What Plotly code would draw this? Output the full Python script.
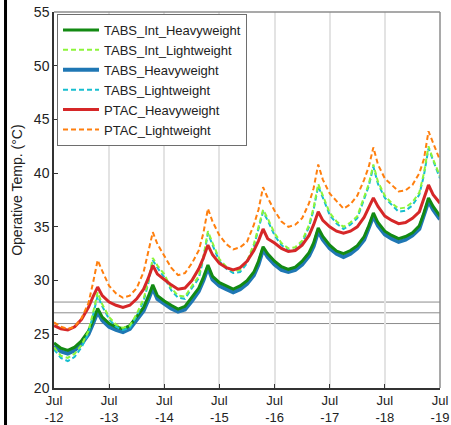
import pandas as pd
import plotly.graph_objects as go

# ---- data ----
day_offsets = [0, 1, 2, 3, 4, 5, 6]
hours_of_day = [0, 3, 6, 9, 12, 15, 17, 19, 21]
end_day = 7
base_date = "2023-07-12"

tabs_int_heavy = [24.2, 23.7, 23.5, 23.8, 24.4, 25.3, 26.3, 27.4, 26.6,
                  26.0, 25.7, 25.5, 25.8, 26.6, 27.5, 28.5, 29.6, 28.6,
                  28.1, 27.7, 27.35, 27.6, 28.4, 29.3, 30.3, 31.45, 30.4,
                  29.8, 29.5, 29.2, 29.5, 30.0, 30.8, 31.8, 33.15, 32.5,
                  31.8, 31.3, 31.05, 31.25, 31.8, 32.6, 33.5, 34.9, 34.1,
                  33.3, 32.75, 32.5, 32.8, 33.25, 34.1, 35.1, 36.3, 35.4,
                  34.6, 34.2, 33.9, 34.1, 34.45, 35.1, 36.3, 37.7, 36.9,
                  36.0]
tabs_int_light = [23.8, 23.0, 22.8, 23.2, 24.0, 25.3, 27.0, 28.9, 27.8,
                  26.6, 25.9, 25.6, 25.8, 26.9, 28.3, 29.9, 32.1, 31.4,
                  30.6, 29.3, 28.6, 28.5, 29.5, 30.4, 32.2, 34.6, 33.5,
                  32.0, 31.3, 30.9, 31.0, 31.8, 33.4, 35.0, 36.6, 35.8,
                  34.4, 33.5, 33.0, 33.1, 33.7, 35.2, 36.8, 39.0, 37.9,
                  36.3, 35.5, 35.0, 35.4, 36.0, 37.8, 39.0, 40.8, 39.2,
                  37.9, 37.2, 36.7, 36.8, 37.3, 38.2, 40.0, 42.5, 41.3,
                  39.7]
tabs_heavy = [23.9, 23.4, 23.2, 23.5, 24.1, 25.0, 26.0, 27.1, 26.3,
              25.7, 25.4, 25.2, 25.5, 26.3, 27.2, 28.2, 29.3, 28.3,
              27.8, 27.4, 27.1, 27.3, 28.1, 29.0, 30.0, 31.2, 30.1,
              29.5, 29.2, 28.9, 29.2, 29.7, 30.5, 31.5, 32.9, 32.2,
              31.5, 31.0, 30.8, 31.0, 31.5, 32.3, 33.2, 34.6, 33.8,
              33.0, 32.5, 32.2, 32.5, 33.0, 33.8, 34.8, 36.0, 35.1,
              34.3, 33.9, 33.6, 33.8, 34.2, 34.8, 36.0, 37.4, 36.6,
              35.7]
tabs_light = [23.6, 22.8, 22.5, 22.9, 23.8, 25.1, 26.8, 28.6, 27.6,
              26.4, 25.7, 25.4, 25.6, 26.7, 28.1, 29.7, 31.9, 31.2,
              30.3, 29.1, 28.4, 28.3, 29.3, 30.2, 32.0, 34.4, 33.3,
              31.8, 31.1, 30.7, 30.8, 31.6, 33.2, 34.8, 36.4, 35.6,
              34.2, 33.3, 32.8, 32.9, 33.5, 35.0, 36.6, 38.8, 37.7,
              36.1, 35.3, 34.8, 35.2, 35.8, 37.6, 38.8, 40.6, 39.0,
              37.7, 37.0, 36.4, 36.5, 37.0, 38.0, 39.8, 42.3, 41.1,
              39.5]
ptac_heavy = [25.8, 25.5, 25.4, 25.7, 26.4, 27.5, 28.5, 29.4, 28.6,
              28.0, 27.7, 27.5, 27.7, 28.3, 29.2, 30.2, 31.4, 30.6,
              30.1, 29.6, 29.2, 29.3, 30.0, 31.1, 32.1, 33.3, 32.4,
              31.6, 31.2, 31.0, 31.2, 31.8, 32.8, 33.7, 34.8, 33.9,
              33.5, 33.0, 32.7, 32.8, 33.3, 34.2, 35.2, 36.4, 35.6,
              35.0, 34.6, 34.4, 34.6, 35.0, 35.9, 36.8, 37.7, 36.9,
              36.0, 35.6, 35.3, 35.4, 35.8, 36.4, 37.6, 38.9, 38.0,
              37.2]
ptac_light = [26.1, 25.7, 25.5, 25.7, 26.5, 27.9, 29.8, 31.9, 30.9,
              29.5, 28.8, 28.4, 28.6, 29.3, 30.8, 32.6, 34.5, 33.4,
              32.3, 31.2, 30.5, 30.7, 31.6, 32.8, 34.4, 36.7, 35.5,
              34.2, 33.4, 32.9, 33.1, 33.6, 35.2, 36.6, 38.7, 37.7,
              36.5, 35.5, 35.0, 35.2, 35.8, 37.2, 38.6, 40.8, 39.4,
              38.1, 37.4, 36.7, 37.1, 37.9, 39.4, 40.6, 42.4, 40.8,
              39.5, 38.9, 38.3, 38.4, 38.9, 40.0, 41.3, 43.9, 42.8,
              41.2]

series_names = ["TABS_Int_Heavyweight", "TABS_Int_Lightweight", "TABS_Heavyweight",
                "TABS_Lightweight", "PTAC_Heavyweight", "PTAC_Lightweight"]
series_values = [tabs_int_heavy, tabs_int_light, tabs_heavy, tabs_light, ptac_heavy, ptac_light]
series_colors = ["#138a13", "#8cf53a", "#1f77b4", "#17becf", "#d62728", "#ff7f0e"]

ref_lines = [26, 27, 28]
tick_days = [0, 1, 2, 3, 4, 5, 6, 7]
tick_text = ["Jul<br>-12", "Jul<br>-13", "Jul<br>-14", "Jul<br>-15",
             "Jul<br>-16", "Jul<br>-17", "Jul<br>-18", "Jul<br>-19"]
y_ticks = [20, 25, 30, 35, 40, 45, 50, 55]
y_title = "Operative Temp. (°C)"

# ---- build ----
base = pd.Timestamp(base_date)
x = [base + pd.Timedelta(days=d, hours=h) for d in day_offsets for h in hours_of_day]
x.append(base + pd.Timedelta(days=end_day))
tick_vals = [base + pd.Timedelta(days=d) for d in tick_days]

styles = {
    "TABS_Int_Heavyweight": dict(width=3, dash="solid"),
    "TABS_Int_Lightweight": dict(width=2, dash="5px,3px"),
    "TABS_Heavyweight": dict(width=4, dash="solid"),
    "TABS_Lightweight": dict(width=2, dash="5px,3px"),
    "PTAC_Heavyweight": dict(width=3, dash="solid"),
    "PTAC_Lightweight": dict(width=2, dash="5px,3px"),
}
draw_order = [2, 0, 3, 1, 4, 5]

fig = go.Figure()
for i in draw_order:
    name = series_names[i]
    fig.add_trace(go.Scatter(
        x=x, y=series_values[i], mode="lines", name=name,
        line=dict(color=series_colors[i], **styles[name]),
        legendrank=i + 1,
    ))

for v in ref_lines:
    fig.add_hline(y=v, line=dict(color="#8c8c8c", width=1), layer="below")

# plot frame top / right (lighter)
fig.add_shape(type="line", xref="paper", yref="paper", x0=0, x1=1, y0=1, y1=1,
              line=dict(color="#8c8c8c", width=1.5))
fig.add_shape(type="line", xref="paper", yref="paper", x0=1, x1=1, y0=0, y1=1,
              line=dict(color="#8c8c8c", width=1.5))
# black border at left edge of the picture
fig.add_shape(type="line", xref="paper", yref="paper",
              x0=-0.1256, x1=-0.1256, y0=-0.1, y1=1.04,
              line=dict(color="black", width=3))

fig.add_annotation(text=y_title, xref="paper", yref="paper",
                   x=-0.0959, y=0.527, xanchor="center", yanchor="middle",
                   textangle=-90, showarrow=False,
                   font=dict(size=14, color="#222222"))

fig.update_layout(
    width=451, height=425,
    margin=dict(l=54, r=11, t=12, b=37, autoexpand=False),
    paper_bgcolor="white", plot_bgcolor="white",
    font=dict(family="Liberation Sans, Arial, sans-serif", color="#222222"),
    showlegend=True,
    legend=dict(
        x=0.0078, y=0.9947, xanchor="left", yanchor="top",
        bgcolor="white", bordercolor="#6e6e6e", borderwidth=1,
        font=dict(size=13, color="#222222"),
        traceorder="normal", itemwidth=36,
    ),
    xaxis=dict(
        type="date", automargin=False,
        range=[tick_vals[0], tick_vals[-1]],
        tickvals=tick_vals, ticktext=tick_text,
        ticks="inside", ticklen=4, tickcolor="#333333",
        showgrid=True, gridcolor="#e3e3e3", gridwidth=1.5,
        showline=True, linecolor="#333333", linewidth=1.5,
        tickfont=dict(size=13, color="#222222"),
        zeroline=False,
    ),
    yaxis=dict(
        range=[20, 55], tickvals=y_ticks, automargin=False,
        ticks="inside", ticklen=4, tickcolor="#333333",
        showgrid=False,
        showline=True, linecolor="#333333", linewidth=1.5,
        tickfont=dict(size=14, color="#222222"),
        zeroline=False,
    ),
)

fig.write_html("out.html")
